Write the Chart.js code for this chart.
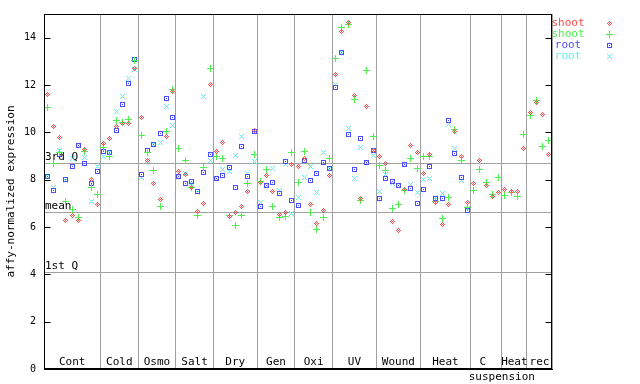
<!DOCTYPE html>
<html>
<head>
<meta charset="utf-8">
<script src="https://cdn.jsdelivr.net/npm/chart.js@4.4.0/dist/chart.umd.min.js"></script>
<style>
  body { margin: 0; background: #fff; }
  canvas { display: block; }
</style>
</head>
<body>
<canvas id="exprChart" width="640" height="384"></canvas>
<script>
// groups along the x axis and how many samples each one holds
const groups = ['Cont', 'Cold', 'Osmo', 'Salt', 'Dry', 'Gen', 'Oxi', 'UV', 'Wound', 'Heat', 'C ', 'Heat', 'rec'];
const groupSizes = [9, 6, 6, 6, 7, 6, 6, 7, 7, 8, 5, 4, 4];
const yTicks = [0, 2, 4, 6, 8, 10, 12, 14];
const quartiles = [8.72, 6.64, 4.10];
const quartileLabels = ['3rd Q', 'mean', '1st Q'];

// one value per sample, null where there is no mark
const shootRed = [
  11.60, 10.23, 9.77, 6.26, 6.47, 6.26, 9.27, 8.00, 6.93,
  9.53, 9.72, 10.25, 10.37, 10.36, 12.68,
  10.61, 8.81, 7.82, 7.15, 9.84, 11.74,
  8.36, 8.20, 7.65, 6.67, 6.98, 12.01,
  9.19, 9.56, 6.45, 6.60, 6.85, 7.48, 10.08,
  7.86, 8.19, 7.48, 6.52, 6.61, 8.64,
  8.55, 8.88, 6.95, 6.13, 6.69, 8.16,
  12.43, 14.28, 14.62, 11.56, 7.20, 11.08, 9.25,
  8.97, 8.68, 6.23, 5.85, 7.58, 9.45, 9.14,
  8.26, 9.05, 7.02, 6.09, 6.93, 10.05, 8.99, 7.02,
  7.82, 8.81, 7.77, 7.28, 7.45,
  7.58, 7.50, 7.50, 9.30,
  10.82, 11.25, 10.75, 9.05
];
const shootGreen = [
  11.03, 8.67, 9.15, 7.06, 6.74, 6.41, 9.20, 7.68, 7.37,
  9.36, 8.96, 10.49, 10.42, 10.54, 13.05,
  9.85, 9.15, 8.39, 6.85, 10.02, 11.81,
  9.30, 8.82, 7.68, 6.48, 8.50, 12.68,
  9.00, 8.88, 6.47, 6.05, 6.48, 7.83, 9.05,
  7.93, 8.43, 6.85, 6.41, 6.46, 9.13,
  7.86, 9.18, 6.60, 5.89, 6.41, 8.89,
  13.11, 14.42, 14.56, 11.37, 7.12, 12.61, 9.81,
  8.61, 8.37, 6.77, 6.95, 7.55, 8.88, 8.46,
  9.00, 8.97, 7.08, 6.34, 7.23, 10.12, 8.82, 6.81,
  7.54, 8.43, 7.87, 7.37, 8.08,
  7.33, 7.46, 7.30, 9.91,
  10.71, 11.35, 9.40, 9.65
];
const rootBlue = [
  8.13, 7.55, 9.06, 7.99, 8.54, 9.46, 8.67, 7.82, 8.36,
  9.17, 9.13, 10.06, 11.16, 12.05, 13.07,
  8.21, 9.23, 9.48, 9.95, 11.42, 10.61,
  8.15, 7.82, 7.91, 7.48, 8.29, 9.05,
  8.07, 8.17, 8.50, 7.65, 9.39, 8.12, 10.02,
  6.88, 7.76, 7.86, 7.40, 8.78, 7.12,
  6.90, 8.82, 7.98, 8.25, 8.71, 8.46,
  11.88, 13.39, 9.91, 8.43, 9.72, 8.71, 9.23,
  7.19, 8.04, 7.94, 7.74, 8.64, 7.62, 6.98,
  7.57, 8.54, 7.20, 7.19, 10.50, 9.10, 8.08, 6.69,
  null, null, null, null, null,
  null, null, null, null,
  null, null, null, null
];
const rootCyan = [
  8.13, 7.68, 9.23, 7.95, 8.89, 9.46, 8.92, 7.06, 8.55,
  8.96, 9.13, 10.86, 11.50, 12.26, 12.65,
  8.08, 8.81, 9.48, 9.57, 11.08, 10.27,
  8.15, 8.25, 7.85, 7.45, 11.50, 8.82,
  8.07, 8.41, 8.36, 9.01, 9.81, 8.25, 8.77,
  7.02, 7.76, 8.47, 7.54, 8.64, 6.55,
  7.23, 8.08, 8.54, 7.44, 9.13, 8.46,
  12.02, 13.39, 10.15, 8.04, 9.34, 8.71, 9.03,
  7.50, 8.20, 7.85, 7.74, 8.64, 7.79, 7.44,
  8.01, 8.03, 7.25, 7.41, 10.32, 9.30, 7.97, 6.78,
  null, null, null, null, null,
  null, null, null, null,
  null, null, null, null
];

const totalSamples = groupSizes.reduce((a, b) => a + b, 0);
const bounds = [0];
groupSizes.forEach(n => bounds.push(bounds[bounds.length - 1] + n));

// small pixel markers like the original plot
function makeMarker(rows, color) {
  const c = document.createElement('canvas');
  c.width = rows[0].length;
  c.height = rows.length;
  const g = c.getContext('2d');
  g.fillStyle = color;
  rows.forEach((r, y) => {
    for (let x = 0; x < r.length; x++) if (r[x] === '#') g.fillRect(x, y, 1, 1);
  });
  return c;
}

const RED = '#ff4c4c', GREEN = '#4cf04c', BLUE = '#4c4cff', CYAN = '#66eeee';
const diamond = makeMarker(['..#..', '.#.#.', '#.#.#', '.#.#.', '..#..'], RED);
const plus = makeMarker(['...#...', '...#...', '...#...', '#######', '...#...', '...#...', '...#...'], GREEN);
const square = makeMarker(['#####', '#...#', '#.#.#', '#...#', '#####'], BLUE);
const cross = makeMarker(['#...#', '.#.#.', '..#..', '.#.#.', '#...#'], CYAN);

function toPoints(values) {
  const pts = [];
  values.forEach((v, i) => { if (v !== null) pts.push({ x: i + 0.5, y: v }); });
  return pts;
}

const series = [
  { label: 'shoot', data: shootRed, color: RED, marker: diamond },
  { label: 'shoot', data: shootGreen, color: GREEN, marker: plus },
  { label: 'root', data: rootBlue, color: BLUE, marker: square },
  { label: 'root', data: rootCyan, color: CYAN, marker: cross }
];

const FONT = '"DejaVu Sans Mono", monospace';

const decorations = {
  id: 'decorations',
  beforeDatasetsDraw(chart) {
    const { ctx, chartArea: a, scales: { x, y } } = chart;
    ctx.save();
    ctx.strokeStyle = '#a0a0a0';
    ctx.lineWidth = 1;
    quartiles.forEach(q => {
      const py = Math.round(y.getPixelForValue(q)) + 0.5;
      ctx.beginPath();
      ctx.moveTo(a.left, py);
      ctx.lineTo(a.right, py);
      ctx.stroke();
    });
    ctx.fillStyle = '#000';
    ctx.font = '11px ' + FONT;
    ctx.textBaseline = 'bottom';
    ctx.textAlign = 'left';
    quartiles.forEach((q, i) => ctx.fillText(quartileLabels[i], a.left + 1, Math.round(y.getPixelForValue(q))));
    ctx.textAlign = 'center';
    groups.forEach((g, i) => {
      const mid = x.getPixelForValue(bounds[i] + groupSizes[i] / 2);
      ctx.fillText(g, mid, a.bottom - 1);
    });
    ctx.textBaseline = 'top';
    ctx.fillText('suspension', x.getPixelForValue(bounds[11]), a.bottom + 3);
    ctx.restore();
    ctx.imageSmoothingEnabled = false;
  },
  afterDraw(chart) {
    const { ctx, chartArea: a, scales: { y } } = chart;
    ctx.save();
    ctx.strokeStyle = '#000';
    ctx.lineWidth = 1;
    const l = Math.round(a.left) + 0.5, r = Math.round(a.right) - 0.5;
    const t = Math.round(a.top) + 0.5, b = Math.round(a.bottom) - 0.5;
    ctx.strokeRect(l, t, r - l, b - t);
    yTicks.forEach(v => {
      const py = Math.round(y.getPixelForValue(v)) + 0.5;
      ctx.beginPath();
      ctx.moveTo(l, py); ctx.lineTo(l + 6, py);
      ctx.moveTo(r, py); ctx.lineTo(r - 6, py);
      ctx.stroke();
    });
    // legend
    ctx.font = '11px ' + FONT;
    ctx.textAlign = 'center';
    ctx.textBaseline = 'middle';
    ctx.imageSmoothingEnabled = false;
    series.forEach((s, i) => {
      const ly = 23 + i * 11;
      ctx.fillStyle = s.color;
      ctx.fillText(s.label, 568, ly);
      ctx.drawImage(s.marker, Math.round(609 - s.marker.width / 2), Math.round(ly - s.marker.height / 2));
    });
    ctx.restore();
  }
};

const ctx = document.getElementById('exprChart').getContext('2d');
const exprChart = new Chart(ctx, {
  type: 'scatter',
  data: {
    datasets: series.map(s => ({
      label: s.label,
      data: toPoints(s.data),
      pointStyle: s.marker,
      borderColor: s.color,
      backgroundColor: s.color
    }))
  },
  options: {
    responsive: false,
    animation: false,
    layout: { padding: { top: 13, right: 88, left: 0, bottom: 0 } },
    plugins: { legend: { display: false }, tooltip: { enabled: false } },
    scales: {
      x: {
        type: 'linear',
        min: 0,
        max: totalSamples,
        afterBuildTicks: s => { s.ticks = bounds.map(v => ({ value: v })); },
        afterFit: s => { s.height = 15; },
        ticks: { display: false },
        grid: { color: '#a0a0a0', drawTicks: false },
        border: { color: '#000' }
      },
      y: {
        min: 0,
        max: 15,
        afterBuildTicks: s => { s.ticks = yTicks.map(v => ({ value: v })); },
        afterFit: s => { s.width = 44; },
        ticks: { color: '#000', padding: 8, font: { family: FONT, size: 10 } },
        grid: { display: false, drawTicks: false },
        border: { color: '#000' },
        title: {
          display: true,
          text: 'affy-normalized expression',
          color: '#000',
          font: { family: FONT, size: 11 },
          padding: { top: 5, bottom: 0 }
        }
      }
    }
  },
  plugins: [decorations]
});
</script>
</body>
</html>
